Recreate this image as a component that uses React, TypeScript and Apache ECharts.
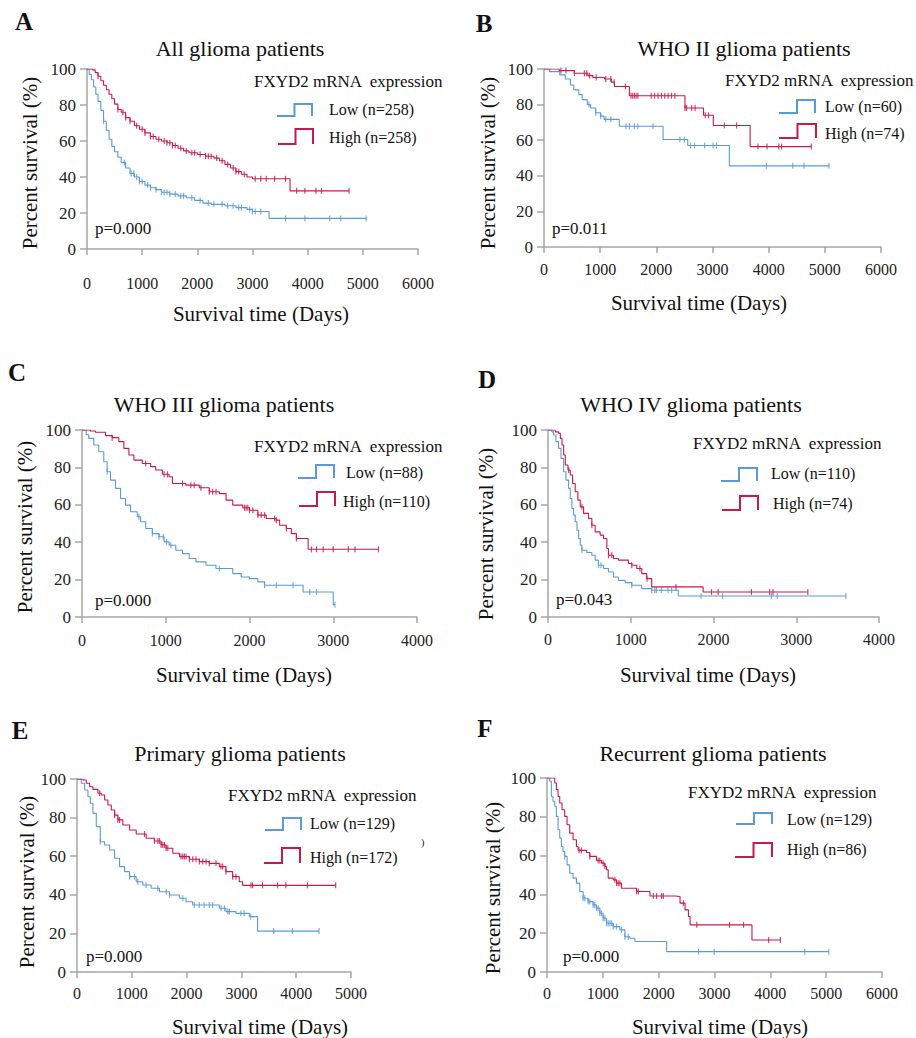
import React, { useEffect, useRef } from "react";
import * as echarts from "echarts";

const BLUE = "#5b9bd5";
const RED = "#c8194b";
const FONT = "Liberation Serif";

// ---------- Panel A: All glioma patients ----------
const aLow = [[0,100],[40,97],[80,94],[120,90],[160,86],[200,82],[250,77],[300,71],[350,66],[400,61],[450,57],[500,54],[560,51],[620,48],[700,45],[780,42],[860,40],[950,37.5],[1050,35.5],[1150,34],[1250,33],[1350,31.5],[1500,30.5],[1650,29.5],[1800,28.5],[1950,27],[2100,25.5],[2250,24.8],[2500,24],[2700,23],[2900,22],[3000,20.8],[3300,17],[5060,17]];
const aLowCens = [300,680,800,850,900,950,1000,1100,1150,1250,1350,1400,1450,1500,1600,1700,1750,1900,2050,2200,2300,2450,2550,2650,2750,2800,2950,3000,3050,3150,3600,3950,4400,4600,5060];
const aHigh = [[0,100],[100,99.5],[150,98],[200,96],[250,93.5],[300,91],[350,88.5],[400,86],[450,83.5],[500,80.5],[560,77.5],[620,76],[700,73],[780,71],[860,68.5],[950,66.5],[1050,64.5],[1150,62.5],[1250,61],[1350,60],[1450,59],[1550,57.5],[1650,56],[1750,54.5],[1850,53.5],[2000,52.5],[2150,51.5],[2300,50.5],[2400,49],[2500,47],[2600,45],[2700,43],[2800,41.5],[2900,40],[3000,39],[3680,32.3],[4750,32.3]];
const aHighCens = [200,560,650,700,780,900,1000,1050,1150,1200,1300,1400,1450,1500,1550,1600,1700,1800,1900,1950,2050,2150,2200,2250,2350,2450,2550,2650,2700,2750,2850,3050,3150,3250,3400,3600,3800,3950,4150,4250,4750];

// ---------- Panel B: WHO II ----------
const bLow = [[0,100],[100,98.5],[280,96.7],[380,94.4],[470,91],[530,88.3],[620,85.6],[680,82.8],[770,80],[830,78.1],[920,75.4],[1010,73.5],[1070,71.7],[1340,67.8],[2120,60.4],[2560,57],[3300,45.6],[5075,45.6]];
const bLowCens = [800,920,1010,1100,1190,1460,1520,1610,1670,1940,2420,2500,2610,2680,2860,3010,3070,3960,4430,4630,5075];
const bHigh = [[0,100],[270,99.1],[540,97.6],[780,96.3],[870,95.2],[1075,94.4],[1200,92.6],[1255,90.2],[1520,85],[2510,78.1],[2840,74],[3015,68.3],[3670,56.4],[4760,56.4]];
const bHighCens = [300,390,540,720,760,810,930,1100,1190,1250,1450,1550,1580,1610,1640,1670,1910,1970,2030,2090,2150,2210,2270,2330,2510,2540,2630,2690,2870,2930,3210,3430,3810,3970,4180,4230,4760];

// ---------- Panel C: WHO III ----------
const cLow = [[0,100],[50,97.5],[80,95.5],[140,92],[200,88.4],[260,83],[300,77.7],[340,73.2],[400,68.8],[460,63.4],[520,59.8],[580,56.3],[660,53.6],[700,50.9],[760,47.3],[840,44.6],[920,42.9],[980,40.2],[1040,38.4],[1120,35.7],[1200,33.9],[1280,31.3],[1360,29.5],[1480,27.7],[1600,25.9],[1800,23.2],[1900,21.4],[2000,20.5],[2100,18.8],[2180,17],[2640,13.4],[3000,6.6],[3020,6.6]];
const cLowCens = [300,680,840,920,970,1010,1060,1640,2180,2320,2520,2720,2800,3020];
const cHigh = [[0,100],[100,99.5],[160,98.8],[280,97],[360,95.9],[440,93.8],[500,90.2],[560,86.6],[620,83.9],[720,82.1],[820,80.4],[880,78.6],[960,76.3],[1040,75],[1080,71.4],[1240,70.5],[1400,69.1],[1520,67],[1640,66],[1720,62.5],[1800,59.8],[1920,58.4],[2000,57.1],[2100,54.5],[2200,52.7],[2320,51.8],[2360,49.1],[2440,47.3],[2500,44.6],[2560,42],[2700,36.2],[3540,36.2]];
const cHighCens = [360,760,980,1020,1200,1300,1340,1420,1520,1560,1600,1940,1960,1980,2000,2040,2100,2140,2180,2300,2320,2440,2560,2740,2800,2880,3000,3180,3260,3540];

// ---------- Panel D: WHO IV ----------
const dLow = [[0,100],[48,99],[68,97.3],[96,93.8],[128,90.2],[157,84.8],[189,77.7],[217,73.2],[249,68.8],[269,63.4],[289,58],[309,54.5],[329,50.9],[350,46.4],[370,42],[390,38.4],[410,35.7],[470,34.5],[530,33],[570,30.4],[610,27.7],[671,25.9],[731,24.1],[791,21.4],[851,19.6],[932,18.4],[1012,17],[1133,15.2],[1253,14.3],[1574,11.2],[3600,11.2]];
const dLowCens = [410,610,640,1012,1253,1290,1310,1370,1450,1494,1850,2110,2700,2770,3600];
const dHigh = [[0,100],[88,99],[128,98.2],[149,95.5],[169,92],[189,86.6],[209,81.3],[241,78.6],[269,75.9],[297,71.4],[329,67],[361,62.5],[390,58.9],[430,55.4],[490,52.7],[530,49.1],[570,45.5],[630,43.8],[671,42],[711,36.6],[731,33],[791,31.3],[851,30.4],[972,28.6],[1012,27.7],[1072,25.9],[1133,23.2],[1193,20.5],[1253,16.1],[1875,13.4],[3140,13.4]];
const dHighCens = [249,410,530,731,770,1012,1110,1197,1546,1976,2056,2458,2679,2719,3140];

// ---------- Panel E: Primary ----------
const eLow = [[0,100],[79,97.8],[140,94.3],[200,90.8],[243,87.4],[291,82.2],[352,75.3],[425,67.5],[504,65.8],[595,63.2],[686,58.9],[777,54.6],[868,52],[959,49.4],[1080,46.8],[1201,45.1],[1353,43.4],[1505,41.6],[1687,39.9],[1869,38.2],[1990,36.4],[2112,34.7],[2597,33],[2718,31.3],[2900,30.4],[3143,28.7],[3295,21.2],[4417,21.2]];
const eLowCens = [425,960,1050,1110,1260,1475,1630,1690,1930,2140,2230,2320,2415,2475,2630,2690,2750,2780,2990,3050,3170,3590,3930,4417];
const eHigh = [[0,100],[109,99.5],[170,97.8],[231,96],[291,94.6],[382,92.6],[443,91.7],[504,89.1],[564,86.5],[625,83.9],[686,81.3],[746,78.8],[837,76.2],[959,73.6],[1080,71.5],[1262,69.3],[1414,67.9],[1535,65.8],[1626,64.1],[1748,61.5],[1869,59.8],[2051,58.4],[2233,57.2],[2415,56.3],[2597,54.6],[2718,52],[2840,49.4],[2961,46.8],[3022,44.9],[4721,44.9]];
const eHighCens = [413,686,746,777,1232,1414,1475,1505,1535,1566,1596,1626,1657,1899,1930,1960,1990,2051,2112,2172,2233,2294,2354,2415,2536,2627,2658,2718,2840,2900,3174,3204,3386,3659,3811,4205,4721];

// ---------- Panel F: Recurrent ----------
const fLow = [[0,100],[48,98.3],[78,90.5],[108,88],[138,85.4],[168,80.2],[198,73.3],[228,69],[257,64.7],[287,62.1],[317,59.6],[359,55.2],[407,50.9],[467,48.4],[527,45.8],[587,41.5],[647,38],[737,36.3],[826,34.6],[886,32.9],[946,30.3],[1006,27.7],[1066,25.1],[1186,23.4],[1305,21.7],[1395,18.2],[1485,17.4],[1575,15.7],[2144,10.5],[5048,10.5]];
const fLowCens = [317,647,677,737,766,826,856,886,916,946,976,1006,1036,1066,1096,1126,1156,1186,1246,1335,1395,1455,2713,2994,4617,5048];
const fHigh = [[0,100],[108,100],[138,97.4],[168,94],[198,90.5],[228,87.1],[269,83.6],[317,80.2],[359,75.9],[407,71.6],[467,68.2],[527,64.7],[557,62.7],[707,61.6],[766,59.6],[886,57.5],[976,56.1],[1036,54.4],[1066,52.7],[1096,48.4],[1186,47.5],[1246,45.8],[1335,43.2],[1605,41.5],[1844,39.2],[2293,38.9],[2383,35.5],[2473,32],[2533,28.6],[2563,24.3],[3671,16.5],[4180,16.5]];
const fHighCens = [575,617,766,916,946,1006,1036,1216,1246,1275,1305,1605,1635,1904,1964,2054,2084,2443,2683,3269,3521,3970,4180];

// ---------- Panel texts ----------
const letters = ["A", "B", "C", "D", "E", "F"];
const titles = ["All glioma patients", "WHO II glioma patients", "WHO III glioma patients", "WHO IV glioma patients", "Primary glioma patients", "Recurrent glioma patients"];
const xMaxes = [6000, 6000, 4000, 4000, 5000, 6000];
const pValues = ["p=0.000", "p=0.011", "p=0.000", "p=0.043", "p=0.000", "p=0.000"];
const lowLabels = ["Low (n=258)", "Low (n=60)", "Low (n=88)", "Low (n=110)", "Low (n=129)", "Low (n=129)"];
const highLabels = ["High (n=258)", "High (n=74)", "High (n=110)", "High (n=74)", "High (n=172)", "High (n=86)"];
const legendTitle = "FXYD2 mRNA  expression";
const yName = "Percent survival (%)";
const xName = "Survival time (Days)";

const lows = [aLow, bLow, cLow, dLow, eLow, fLow];
const lowCens = [aLowCens, bLowCens, cLowCens, dLowCens, eLowCens, fLowCens];
const highs = [aHigh, bHigh, cHigh, dHigh, eHigh, fHigh];
const highCens = [aHighCens, bHighCens, cHighCens, dHighCens, eHighCens, fHighCens];

// ---------- Layout (pixels) ----------
const layouts = [
  { grid: { left: 87, top: 69, width: 331, height: 180 }, xm: 26, letter: [24, 21], title: [240, 48], yN: [30, 163], xN: [261, 314], leg: [254, 81], lowIcon: [277, 104, 312, 116], lowText: [329, 109], highIcon: [278, 129, 313, 144], highText: [329, 137], p: [95, 228] },
  { grid: { left: 544, top: 69, width: 337, height: 178 }, xm: 14, letter: [484, 23], title: [744, 48], yN: [488, 163], xN: [699, 303], leg: [725, 80], lowIcon: [779, 100, 815, 113], lowText: [825, 106], highIcon: [779, 124, 816, 138], highText: [825, 133], p: [552, 228] },
  { grid: { left: 82, top: 430, width: 335, height: 187 }, xm: 15, letter: [17, 372], title: [224, 404], yN: [25, 527], xN: [244, 675], leg: [254, 446], lowIcon: [298, 465, 334, 478], lowText: [346, 472], highIcon: [299, 492, 335, 506], highText: [343, 501], p: [95, 600] },
  { grid: { left: 548, top: 430, width: 331, height: 187 }, xm: 14, letter: [487, 379], title: [691, 404], yN: [486, 534], xN: [708, 675], leg: [693, 443], lowIcon: [721, 468, 757, 481], lowText: [771, 473], highIcon: [722, 496, 758, 510], highText: [773, 503], p: [556, 599] },
  { grid: { left: 77, top: 779, width: 274, height: 193 }, xm: 13, letter: [20, 730], title: [240, 753], yN: [27, 882], xN: [260, 1027], leg: [228, 795], lowIcon: [265, 818, 301, 830], lowText: [310, 823], highIcon: [264, 848, 300, 863], highText: [310, 857], p: [86, 956] },
  { grid: { left: 547, top: 778, width: 335, height: 194 }, xm: 13, letter: [485, 728], title: [713, 753], yN: [493, 888], xN: [720, 1027], leg: [688, 792], lowIcon: [736, 813, 772, 824], lowText: [787, 819], highIcon: [735, 843, 772, 857], highText: [787, 849], p: [563, 956] },
];

function survAt(curve: number[][], t: number): number {
  let v = curve[0][1];
  for (const pt of curve) {
    if (pt[0] <= t) v = pt[1];
    else break;
  }
  return v;
}

function txt(x: number, y: number, text: string, size: number, opts: any = {}) {
  return {
    type: "text",
    x,
    y,
    rotation: opts.rotation || 0,
    silent: true,
    style: {
      text,
      font: `${opts.bold ? "bold " : ""}${size}px "${FONT}", serif`,
      fill: "#111",
      textAlign: opts.align || "left",
      align: opts.align || "left",
      textVerticalAlign: "middle",
      verticalAlign: "middle",
    },
  };
}

function icon(b: number[], color: string) {
  const [x1, y1, x2, y2] = b;
  const xm = (x1 + x2) / 2;
  return {
    type: "polyline",
    silent: true,
    shape: { points: [[x1, y2], [xm, y2], [xm, y1], [x2, y1], [x2, y2]] },
    style: { stroke: color, lineWidth: 2, fill: null },
  };
}

export default function App() {
  const ref = useRef<HTMLDivElement>(null);

  useEffect(() => {
    document.body.style.margin = "0";
    if (!ref.current) return;
    const chart = echarts.init(ref.current, null, { renderer: "svg" });

    const grids: any[] = [];
    const xAxes: any[] = [];
    const yAxes: any[] = [];
    const series: any[] = [];
    const graphics: any[] = [];
    const axisColor = "#a6a6a6";
    const plain = (v: number) => String(v);

    layouts.forEach((L, i) => {
      grids.push({ ...L.grid, containLabel: false });
      xAxes.push({
        type: "value",
        gridIndex: i,
        min: 0,
        max: xMaxes[i],
        interval: 1000,
        axisLine: { show: true, onZero: false, lineStyle: { color: axisColor, width: 1.5 } },
        axisTick: { show: true, length: 6, lineStyle: { color: axisColor, width: 1.5 } },
        axisLabel: { fontFamily: FONT, fontSize: 16, color: "#222", margin: L.xm, formatter: plain },
        splitLine: { show: false },
      });
      yAxes.push({
        type: "value",
        gridIndex: i,
        min: 0,
        max: 100,
        interval: 20,
        axisLine: { show: true, onZero: false, lineStyle: { color: axisColor, width: 1.5 } },
        axisTick: { show: true, length: 7, lineStyle: { color: axisColor, width: 1.5 } },
        axisLabel: { fontFamily: FONT, fontSize: 17, color: "#222", margin: 11, formatter: plain },
        splitLine: { show: false },
      });
      const groups = [
        { curve: lows[i], cens: lowCens[i], color: BLUE, name: lowLabels[i] },
        { curve: highs[i], cens: highCens[i], color: RED, name: highLabels[i] },
      ];
      groups.forEach((g) => {
        series.push({
          type: "line",
          name: g.name,
          xAxisIndex: i,
          yAxisIndex: i,
          step: "end",
          showSymbol: false,
          symbol: "none",
          lineStyle: { color: g.color, width: 1.1 },
          data: g.curve,
          silent: true,
        });
        series.push({
          type: "scatter",
          name: g.name + " censored",
          xAxisIndex: i,
          yAxisIndex: i,
          symbol: "rect",
          symbolSize: [1.2, 6],
          itemStyle: { color: g.color },
          data: g.cens.map((t) => [t, survAt(g.curve, t)]),
          silent: true,
        });
      });

      graphics.push(txt(L.letter[0], L.letter[1], letters[i], 25, { bold: true, align: "center" }));
      graphics.push(txt(L.title[0], L.title[1], titles[i], 22, { align: "center" }));
      graphics.push(txt(L.yN[0], L.yN[1], yName, 21, { align: "center", rotation: Math.PI / 2 }));
      graphics.push(txt(L.xN[0], L.xN[1], xName, 21, { align: "center" }));
      graphics.push(txt(L.leg[0], L.leg[1], legendTitle, 17));
      graphics.push(icon(L.lowIcon, BLUE));
      graphics.push(txt(L.lowText[0], L.lowText[1], lowLabels[i], 16));
      graphics.push(icon(L.highIcon, RED));
      graphics.push(txt(L.highText[0], L.highText[1], highLabels[i], 16));
      graphics.push(txt(L.p[0], L.p[1], pValues[i], 17));
    });
    graphics.push(txt(421, 842, ")", 10));

    chart.setOption({
      animation: false,
      backgroundColor: "#ffffff",
      grid: grids,
      xAxis: xAxes,
      yAxis: yAxes,
      series,
      graphic: graphics,
    });

    return () => chart.dispose();
  }, []);

  return <div ref={ref} style={{ width: 916, height: 1038, position: "absolute", left: 0, top: 0 }} />;
}
